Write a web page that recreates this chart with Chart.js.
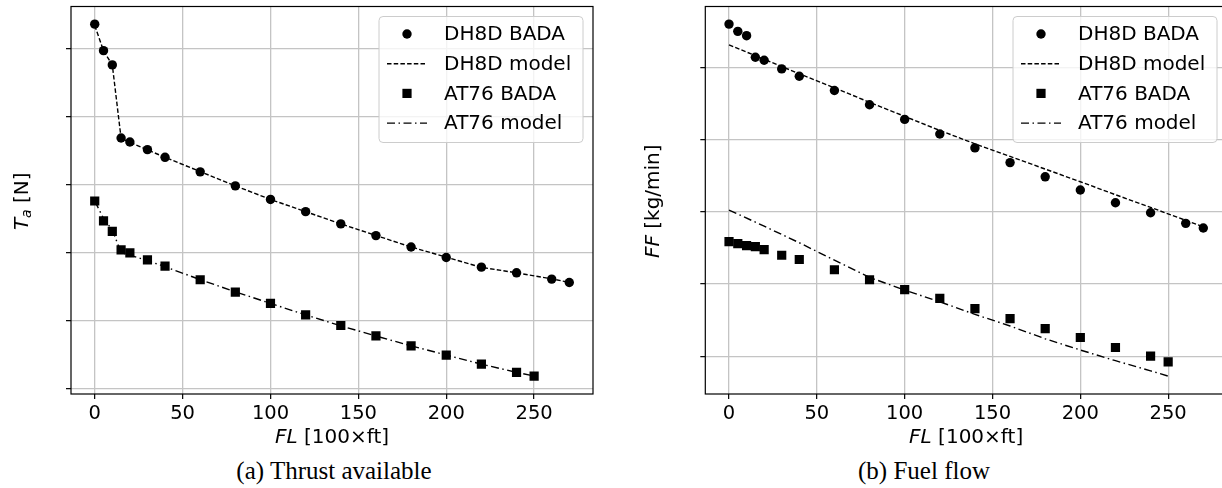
<!DOCTYPE html>
<html><head><meta charset="utf-8">
<script src="https://cdn.jsdelivr.net/npm/chart.js@4/dist/chart.umd.min.js"></script>
<style>
html,body{margin:0;padding:0;width:1222px;height:488px;overflow:hidden;background:#fff;}
#wrap{position:relative;width:1222px;height:488px;overflow:hidden;}
canvas{position:absolute;top:0;}
#cA{left:0;} #cB{left:634px;}
.cap{position:absolute;font-family:"Liberation Serif",serif;font-size:25px;line-height:25px;color:#000;white-space:nowrap;transform:translateX(-50%);top:458px;}
</style></head>
<body><div id="wrap">
<canvas id="cA" width="620" height="452"></canvas>
<canvas id="cB" width="620" height="452"></canvas>
<div class="cap" style="left:334px">(a) Thrust available</div>
<div class="cap" style="left:924px">(b) Fuel flow</div>
</div>
<script>
// ---- data (y in arbitrary units; the original axes carry no y tick labels) ----
const xTicks = [0, 50, 100, 150, 200, 250];
const yTicksThrust = [1, 2, 3, 4, 5, 6];
const yTicksFuel = [1, 2, 3, 4, 5];

const flDH8D = [0,5,10,15,20,30,40,60,80,100,120,140,160,180,200,220,240,260,270];
const flAT76 = [0,5,10,15,20,30,40,60,80,100,120,140,160,180,200,220,240,250];

// (a) Thrust available
const thrustDH8DBada  = [6.36,5.97,5.76,4.685,4.626,4.513,4.40,4.186,3.98,3.78,3.60,3.42,3.248,3.08,2.925,2.783,2.70,2.607,2.558];
const thrustDH8DModel = [6.34,5.97,5.76,4.68,4.62,4.51,4.40,4.19,3.98,3.78,3.60,3.42,3.25,3.08,2.93,2.78,2.70,2.61,2.56];
const thrustAT76Bada  = [3.757,3.463,3.31,3.038,2.994,2.89,2.798,2.598,2.416,2.25,2.08,1.924,1.771,1.625,1.488,1.356,1.235,1.18];
const thrustAT76Model = [3.757,3.50,3.33,3.00,2.96,2.88,2.79,2.60,2.42,2.25,2.08,1.92,1.77,1.625,1.49,1.355,1.235,1.18];

// (b) Fuel flow
const fuelDH8DBada  = [5.597,5.497,5.437,5.138,5.097,4.977,4.876,4.678,4.48,4.278,4.076,3.883,3.68,3.483,3.30,3.124,2.986,2.839,2.775];
const flDH8DFuelModel = [0,20,40,60,80,100,120,140,160,180,200,220,240,260,270];
const fuelDH8DModel = [5.31,5.11,4.91,4.715,4.515,4.32,4.125,3.94,3.765,3.59,3.415,3.235,3.06,2.88,2.79];
const fuelAT76Bada  = [2.586,2.559,2.531,2.517,2.476,2.397,2.338,2.196,2.058,1.92,1.80,1.658,1.52,1.382,1.258,1.12,1.0,0.922];
const flAT76FuelModel = [0,20,40,60,80,100,120,140,160,180,200,220,240,250];
const fuelAT76Model = [3.023,2.80,2.57,2.33,2.09,1.915,1.752,1.579,1.418,1.240,1.085,0.937,0.797,0.724];

const labels = ['DH8D BADA','DH8D model','AT76 BADA','AT76 model'];

const zip = (xs, ys) => xs.map((x, i) => ({x, y: ys[i]}));

const FONT = "'DejaVu Sans'";

const deco = {
  id: 'deco',
  afterDraw(chart, args, o) {
    const ctx = chart.ctx, a = chart.chartArea;
    ctx.save();
    // frame
    ctx.strokeStyle = '#000'; ctx.lineWidth = 1.2; ctx.setLineDash([]);
    ctx.strokeRect(a.left, a.top, a.right - a.left, a.bottom - a.top);
    ctx.fillStyle = '#000';
    // x title
    ctx.textBaseline = 'alphabetic';
    const xp = [{t:'FL', it:true}, {t:' [100\u00d7ft]'}];
    let tw = 0;
    xp.forEach(p => { ctx.font = (p.it ? 'italic ' : '') + '20px ' + FONT; p.w = ctx.measureText(p.t).width; tw += p.w; });
    let cx = (a.left + a.right) / 2 - tw / 2;
    xp.forEach(p => { ctx.font = (p.it ? 'italic ' : '') + '20px ' + FONT; ctx.textAlign = 'left'; ctx.fillText(p.t, cx, a.bottom + 49); cx += p.w; });
    // y title (rotated)
    ctx.save();
    ctx.translate(a.left - o.yTitleOffset, (a.top + a.bottom) / 2 + 1);
    ctx.rotate(-Math.PI / 2);
    tw = 0;
    o.yParts.forEach(p => { ctx.font = (p.it ? 'italic ' : '') + (p.sub ? '14px ' : '20px ') + FONT; p.w = ctx.measureText(p.t).width; tw += p.w; });
    cx = -tw / 2;
    o.yParts.forEach(p => { ctx.font = (p.it ? 'italic ' : '') + (p.sub ? '14px ' : '20px ') + FONT; ctx.textAlign = 'left'; ctx.fillText(p.t, cx, p.sub ? 3.5 : 0); cx += p.w; });
    ctx.restore();
    // legend
    const w = 204, h = 126, x0 = a.right - 10 - w, y0 = a.top + 10, r = 4;
    ctx.beginPath();
    ctx.moveTo(x0 + r, y0); ctx.lineTo(x0 + w - r, y0); ctx.arcTo(x0 + w, y0, x0 + w, y0 + r, r);
    ctx.lineTo(x0 + w, y0 + h - r); ctx.arcTo(x0 + w, y0 + h, x0 + w - r, y0 + h, r);
    ctx.lineTo(x0 + r, y0 + h); ctx.arcTo(x0, y0 + h, x0, y0 + h - r, r);
    ctx.lineTo(x0, y0 + r); ctx.arcTo(x0, y0, x0 + r, y0, r); ctx.closePath();
    ctx.fillStyle = 'rgba(255,255,255,0.8)'; ctx.fill();
    ctx.strokeStyle = '#cccccc'; ctx.lineWidth = 1; ctx.stroke();
    chart.data.datasets.forEach((ds, i) => {
      const cy = y0 + 17.5 + i * 29.7, mx = x0 + 28;
      ctx.fillStyle = '#000'; ctx.strokeStyle = '#000';
      if (ds.showLine) {
        ctx.setLineDash(ds.borderDash); ctx.lineWidth = ds.borderWidth;
        ctx.beginPath(); ctx.moveTo(x0 + 8, cy); ctx.lineTo(x0 + 48, cy); ctx.stroke(); ctx.setLineDash([]);
      } else if (ds.pointStyle === 'rect') {
        const s = ds.pointRadius * Math.SQRT1_2;
        ctx.fillRect(mx - s, cy - s, 2 * s, 2 * s);
      } else {
        ctx.beginPath(); ctx.arc(mx, cy, ds.pointRadius, 0, Math.PI * 2); ctx.fill();
      }
      ctx.font = '20px ' + FONT; ctx.textAlign = 'left'; ctx.textBaseline = 'middle';
      ctx.fillText(ds.label, x0 + 65, cy + 1);
    });
    ctx.restore();
  }
};

function makeChart(id, d) {
  return new Chart(document.getElementById(id), {
    type: 'scatter',
    data: { datasets: [
      {label: labels[0], data: zip(d.x1, d.y1), pointStyle: 'circle', pointRadius: 4.7, backgroundColor: '#000', borderColor: '#000', borderWidth: 0, showLine: false, order: 0},
      {label: labels[1], data: zip(d.x2, d.y2), showLine: true, pointRadius: 0, borderColor: '#000', borderWidth: 1.4, borderDash: [4.5, 2.2], fill: false, order: 2},
      {label: labels[2], data: zip(d.x3, d.y3), pointStyle: 'rect', pointRadius: 6.5, backgroundColor: '#000', borderColor: '#000', borderWidth: 0, showLine: false, order: 1},
      {label: labels[3], data: zip(d.x4, d.y4), showLine: true, pointRadius: 0, borderColor: '#000', borderWidth: 1.4, borderDash: [8, 3.5, 1.5, 3.5], fill: false, order: 3}
    ]},
    options: {
      responsive: false, animation: false, devicePixelRatio: 1,
      layout: {padding: {left: 0, right: 27, top: 5, bottom: 0}},
      plugins: {legend: {display: false}, tooltip: {enabled: false}, deco: {yParts: d.yParts, yTitleOffset: d.yOff}},
      scales: {
        x: {type: 'linear', position: 'bottom', min: -13.5, max: 283.5,
            afterBuildTicks: s => { s.ticks = xTicks.map(v => ({value: v})); },
            afterFit: s => { s.height = 58; },
            grid: {color: '#c4c4c4', lineWidth: 1.3, tickColor: '#000', tickLength: 5, tickWidth: 1.2},
            border: {display: false},
            ticks: {color: '#000', font: {family: 'DejaVu Sans', size: 19.5}, padding: 3, maxRotation: 0, autoSkip: false}},
        y: {type: 'linear', position: 'left', min: d.ymin, max: d.ymax,
            afterBuildTicks: s => { s.ticks = d.yTicks.map(v => ({value: v})); },
            afterFit: s => { s.width = d.yw; },
            grid: {color: '#c4c4c4', lineWidth: 1.3, tickColor: '#000', tickLength: 5, tickWidth: 1.2},
            border: {display: false},
            ticks: {display: false}}
      }
    },
    plugins: [deco]
  });
}

makeChart('cA', {
  x1: flDH8D, y1: thrustDH8DBada, x2: flDH8D, y2: thrustDH8DModel,
  x3: flAT76, y3: thrustAT76Bada, x4: flAT76, y4: thrustAT76Model,
  ymin: 0.916, ymax: 6.62, yTicks: yTicksThrust, yw: 71, yOff: 43.5,
  yParts: [{t:'T', it:true}, {t:'a', it:true, sub:true}, {t:' [N]'}]
});
makeChart('cB', {
  x1: flDH8D, y1: fuelDH8DBada, x2: flDH8DFuelModel, y2: fuelDH8DModel,
  x3: flAT76, y3: fuelAT76Bada, x4: flAT76FuelModel, y4: fuelAT76Model,
  ymin: 0.476, ymax: 5.841, yTicks: yTicksFuel, yw: 71.3, yOff: 46.3,
  yParts: [{t:'FF', it:true}, {t:' [kg/min]'}]
});
</script>
</body></html>
